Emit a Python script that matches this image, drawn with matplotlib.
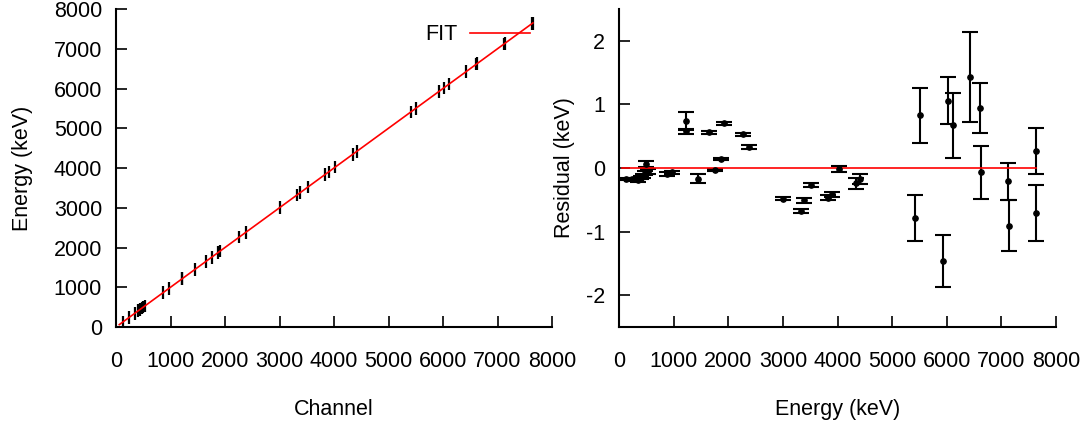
import matplotlib
matplotlib.use("Agg")
import matplotlib.pyplot as plt
import numpy as np

plt.rcParams['font.family'] = ['Liberation Sans', 'DejaVu Sans']
plt.rcParams['axes.unicode_minus'] = False

# Calibration points (energy in keV), channel ~ energy
energy = [122, 245, 344, 411, 444, 480, 500, 530, 870, 964, 1220, 1220, 1445,
          1646, 1756, 1866, 1915, 2262, 2378, 3006, 3323, 3384, 3524, 3829,
          3902, 4024, 4344, 4417, 5411, 5503, 5923, 6015, 6112, 6423, 6613,
          6624, 7118, 7136, 7630, 7643]
channel = list(energy)
energy_err = [160] * len(energy)

residual = [-0.17, -0.18, -0.19, -0.15, -0.12, -0.08, 0.06, -0.06, -0.10, -0.07,
            0.74, 0.58, -0.17, 0.56, -0.03, 0.14, 0.70, 0.53, 0.33, -0.48,
            -0.67, -0.51, -0.27, -0.47, -0.41, -0.02, -0.24, -0.17, -0.79, 0.83,
            -1.46, 1.06, 0.67, 1.43, 0.94, -0.07, -0.21, -0.91, 0.27, -0.70]
residual_err = [0.02, 0.03, 0.03, 0.03, 0.03, 0.03, 0.05, 0.04, 0.03, 0.03,
                0.14, 0.04, 0.07, 0.02, 0.02, 0.02, 0.03, 0.02, 0.03, 0.02,
                0.03, 0.04, 0.03, 0.04, 0.04, 0.05, 0.09, 0.08, 0.36, 0.43,
                0.41, 0.37, 0.51, 0.71, 0.39, 0.42, 0.29, 0.40, 0.36, 0.44]

fit_x = [60, 7650]
fit_y = [60, 7650]

W, H = 1087, 421
fig = plt.figure(figsize=(W / 100, H / 100), dpi=100)
ax1 = fig.add_axes([116 / W, 1 - 327 / H, 436 / W, 318 / H])
ax2 = fig.add_axes([619 / W, 1 - 327 / H, 437 / W, 318 / H])

FS = 15.5

def style(ax):
    for s in ['top', 'right']:
        ax.spines[s].set_visible(False)
    for s in ['left', 'bottom']:
        ax.spines[s].set_linewidth(1.5)
    ax.tick_params(direction='in', length=8, width=1.2, labelsize=FS)
    ax.tick_params(axis='x', pad=17)
    ax.tick_params(axis='y', pad=10)

# Left panel
ax1.errorbar(channel, energy, yerr=energy_err, fmt='none', ecolor='black',
             elinewidth=1.6, capsize=0)
ax1.plot(fit_x, fit_y, color='red', lw=1.2, label='FIT')
ax1.set_xlim(0, 8000)
ax1.set_ylim(0, 8000)
ax1.set_xticks(np.arange(0, 8001, 1000))
ax1.set_yticks(np.arange(0, 8001, 1000))
ax1.set_xlabel('Channel', fontsize=FS, labelpad=20)
ax1.set_ylabel('Energy (keV)', fontsize=FS, labelpad=15)
style(ax1)
ax1.legend(loc='upper right', bbox_to_anchor=(0.985, 1.0), frameon=False,
           markerfirst=False, fontsize=FS, handlelength=2.8, handletextpad=0.6,
           borderaxespad=0.3)

# Right panel
ax2.errorbar(energy, residual, yerr=residual_err, fmt='o', color='black',
             markersize=3.8, ecolor='black', elinewidth=1.5, capsize=6,
             capthick=1.5)
ax2.plot([energy[0] - 60, energy[-1]], [0, 0], color='red', lw=1.2)
ax2.set_xlim(0, 8000)
ax2.set_ylim(-2.5, 2.5)
ax2.set_xticks(np.arange(0, 8001, 1000))
ax2.set_yticks([-2, -1, 0, 1, 2])
ax2.set_xlabel('Energy (keV)', fontsize=FS, labelpad=20)
ax2.set_ylabel('Residual (keV)', fontsize=FS, labelpad=8)
style(ax2)

fig.savefig('out.png', dpi=100)
